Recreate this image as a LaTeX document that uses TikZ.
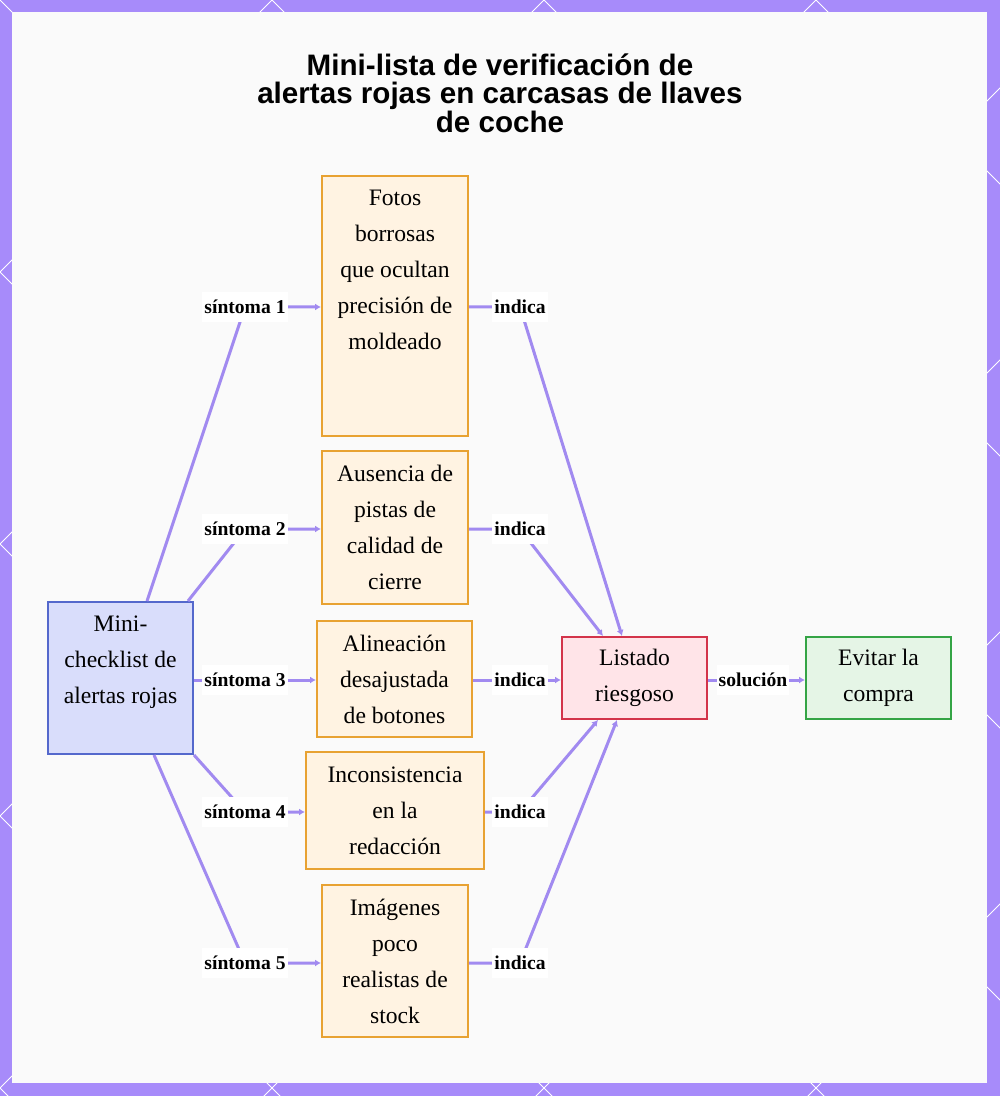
\documentclass[tikz,border=0pt]{standalone}
\usepackage{fontspec}
\setmainfont{Liberation Serif}
\newfontfamily\titlefont{Liberation Sans}
\usepackage{tikz}
\usetikzlibrary{arrows.meta,positioning,calc}
\usepackage{xcolor}
\definecolor{framepurple}{HTML}{A78BFA}
\definecolor{edgepurple}{HTML}{A18AF0}
\definecolor{symfill}{HTML}{FFF3E2}
\definecolor{symdraw}{HTML}{E8A232}
\definecolor{startfill}{HTML}{D9DDFB}
\definecolor{startdraw}{HTML}{5468CC}
\definecolor{riskfill}{HTML}{FFE4E8}
\definecolor{riskdraw}{HTML}{D3344A}
\definecolor{okfill}{HTML}{E5F5E6}
\definecolor{okdraw}{HTML}{34A445}

\begin{document}
\begin{tikzpicture}[x=0.5pt, y=-0.5pt, >={Latex[length=3pt,width=3.5pt]},
  box/.style={draw, line width=1pt, align=center, inner sep=0pt,
    font=\fontsize{11.8}{18}\selectfont},
  sympt/.style={box, fill=symfill, draw=symdraw},
  edge/.style={draw=edgepurple, line width=1.5pt},
  elabel/.style={fill=white, inner xsep=1pt, inner ysep=4pt,
    font=\fontsize{9.8}{12}\selectfont\bfseries}]
  \useasboundingbox (0,0) rectangle (1000,1096);

  % frame
  \fill[framepurple] (0,0) rectangle (1000,1096);
  \begin{scope}
    \clip (0,0) rectangle (1000,1096);
    \foreach \k in {-4,...,8}
      \draw[white, line width=0.5pt] (272*\k,0) -- ++(1200,1200)
                                      (272*\k,0) -- ++(-1200,1200);
  \end{scope}
  \fill[white!98!black] (12,12) rectangle (987,1083);

  % title
  \node[align=center, font=\titlefont\fontsize{14.8}{14.3}\selectfont\bfseries] (title) at (500,93)
    {Mini-lista de verificación de\\alertas rojas en carcasas de llaves\\de coche};

  % nodes
  \node[box, fill=startfill, draw=startdraw, minimum width=72.5pt, minimum height=76pt] (start) at (120.5,678)
    {Mini-\\checklist de\\alertas rojas\\\mbox{}};
  \node[sympt, minimum width=73pt, minimum height=130pt] (blur) at (395,306)
    {Fotos\\borrosas\\que ocultan\\precisión de\\moldeado\\\mbox{}\\\mbox{}};
  \node[sympt, minimum width=73pt, minimum height=76.5pt] (latch) at (395,527.5)
    {Ausencia de\\pistas de\\calidad de\\cierre};
  \node[sympt, minimum width=77.5pt, minimum height=58pt] (align) at (394.5,679)
    {Alineación\\desajustada\\de botones};
  \node[sympt, minimum width=89pt, minimum height=58.5pt] (wording) at (395,810.5)
    {Inconsistencia\\en la\\redacción};
  \node[sympt, minimum width=73pt, minimum height=76pt] (stock) at (395,961)
    {Imágenes\\poco\\realistas de\\stock};
  \node[box, fill=riskfill, draw=riskdraw, minimum width=72.5pt, minimum height=41pt] (risk) at (634.5,678)
    {Listado\\riesgoso};
  \node[box, fill=okfill, draw=okdraw, minimum width=72.5pt, minimum height=41pt] (avoid) at (878.5,678)
    {Evitar la\\compra};

  % label spots
  \coordinate (s1) at (245,307);
  \coordinate (s2) at (245,529);
  \coordinate (s3) at (245,680);
  \coordinate (s4) at (245,812);
  \coordinate (s5) at (245,963);
  \coordinate (i1) at (520,307);
  \coordinate (i2) at (520,529);
  \coordinate (i3) at (520,680);
  \coordinate (i4) at (520,812);
  \coordinate (i5) at (520,963);
  \coordinate (sol) at (753,680);

  % checklist -> symptoms
  \draw[edge, ->] ($(start.north west)+(100,0)$) -- (s1) -- (s1 -| blur.west);
  \draw[edge, ->] ($(start.north east)+(-6,0)$) -- (s2) -- (s2 -| latch.west);
  \draw[edge, ->] (s3 -| start.east) -- (s3) -- (s3 -| align.west);
  \draw[edge, ->] (start.south east) -- (s4) -- (s4 -| wording.west);
  \draw[edge, ->] ($(start.south west)+(107,0)$) -- (s5) -- (s5 -| stock.west);

  % symptoms -> risky listing
  \draw[edge, ->] (i1 -| blur.east) -- (i1) -- ($(risk.north)+(-12.5,0)$);
  \draw[edge, ->] (i2 -| latch.east) -- (i2) -- ($(risk.north)+(-31.5,0)$);
  \draw[edge, ->] (i3 -| align.east) -- (i3) -- (i3 -| risk.west);
  \draw[edge, ->] (i4 -| wording.east) -- (i4) -- ($(risk.south)+(-36.5,0)$);
  \draw[edge, ->] (i5 -| stock.east) -- (i5) -- ($(risk.south)+(-17.5,0)$);
  \draw[edge, ->] (sol -| risk.east) -- (sol) -- (sol -| avoid.west);

  % labels
  \foreach \n in {1,...,5} {
    \node[elabel] (sl\n) at (s\n) {síntoma \n};
    \node[elabel] (il\n) at (i\n) {indica};
  }
  \node[elabel] (soll) at (sol) {solución};
\end{tikzpicture}
\end{document}
